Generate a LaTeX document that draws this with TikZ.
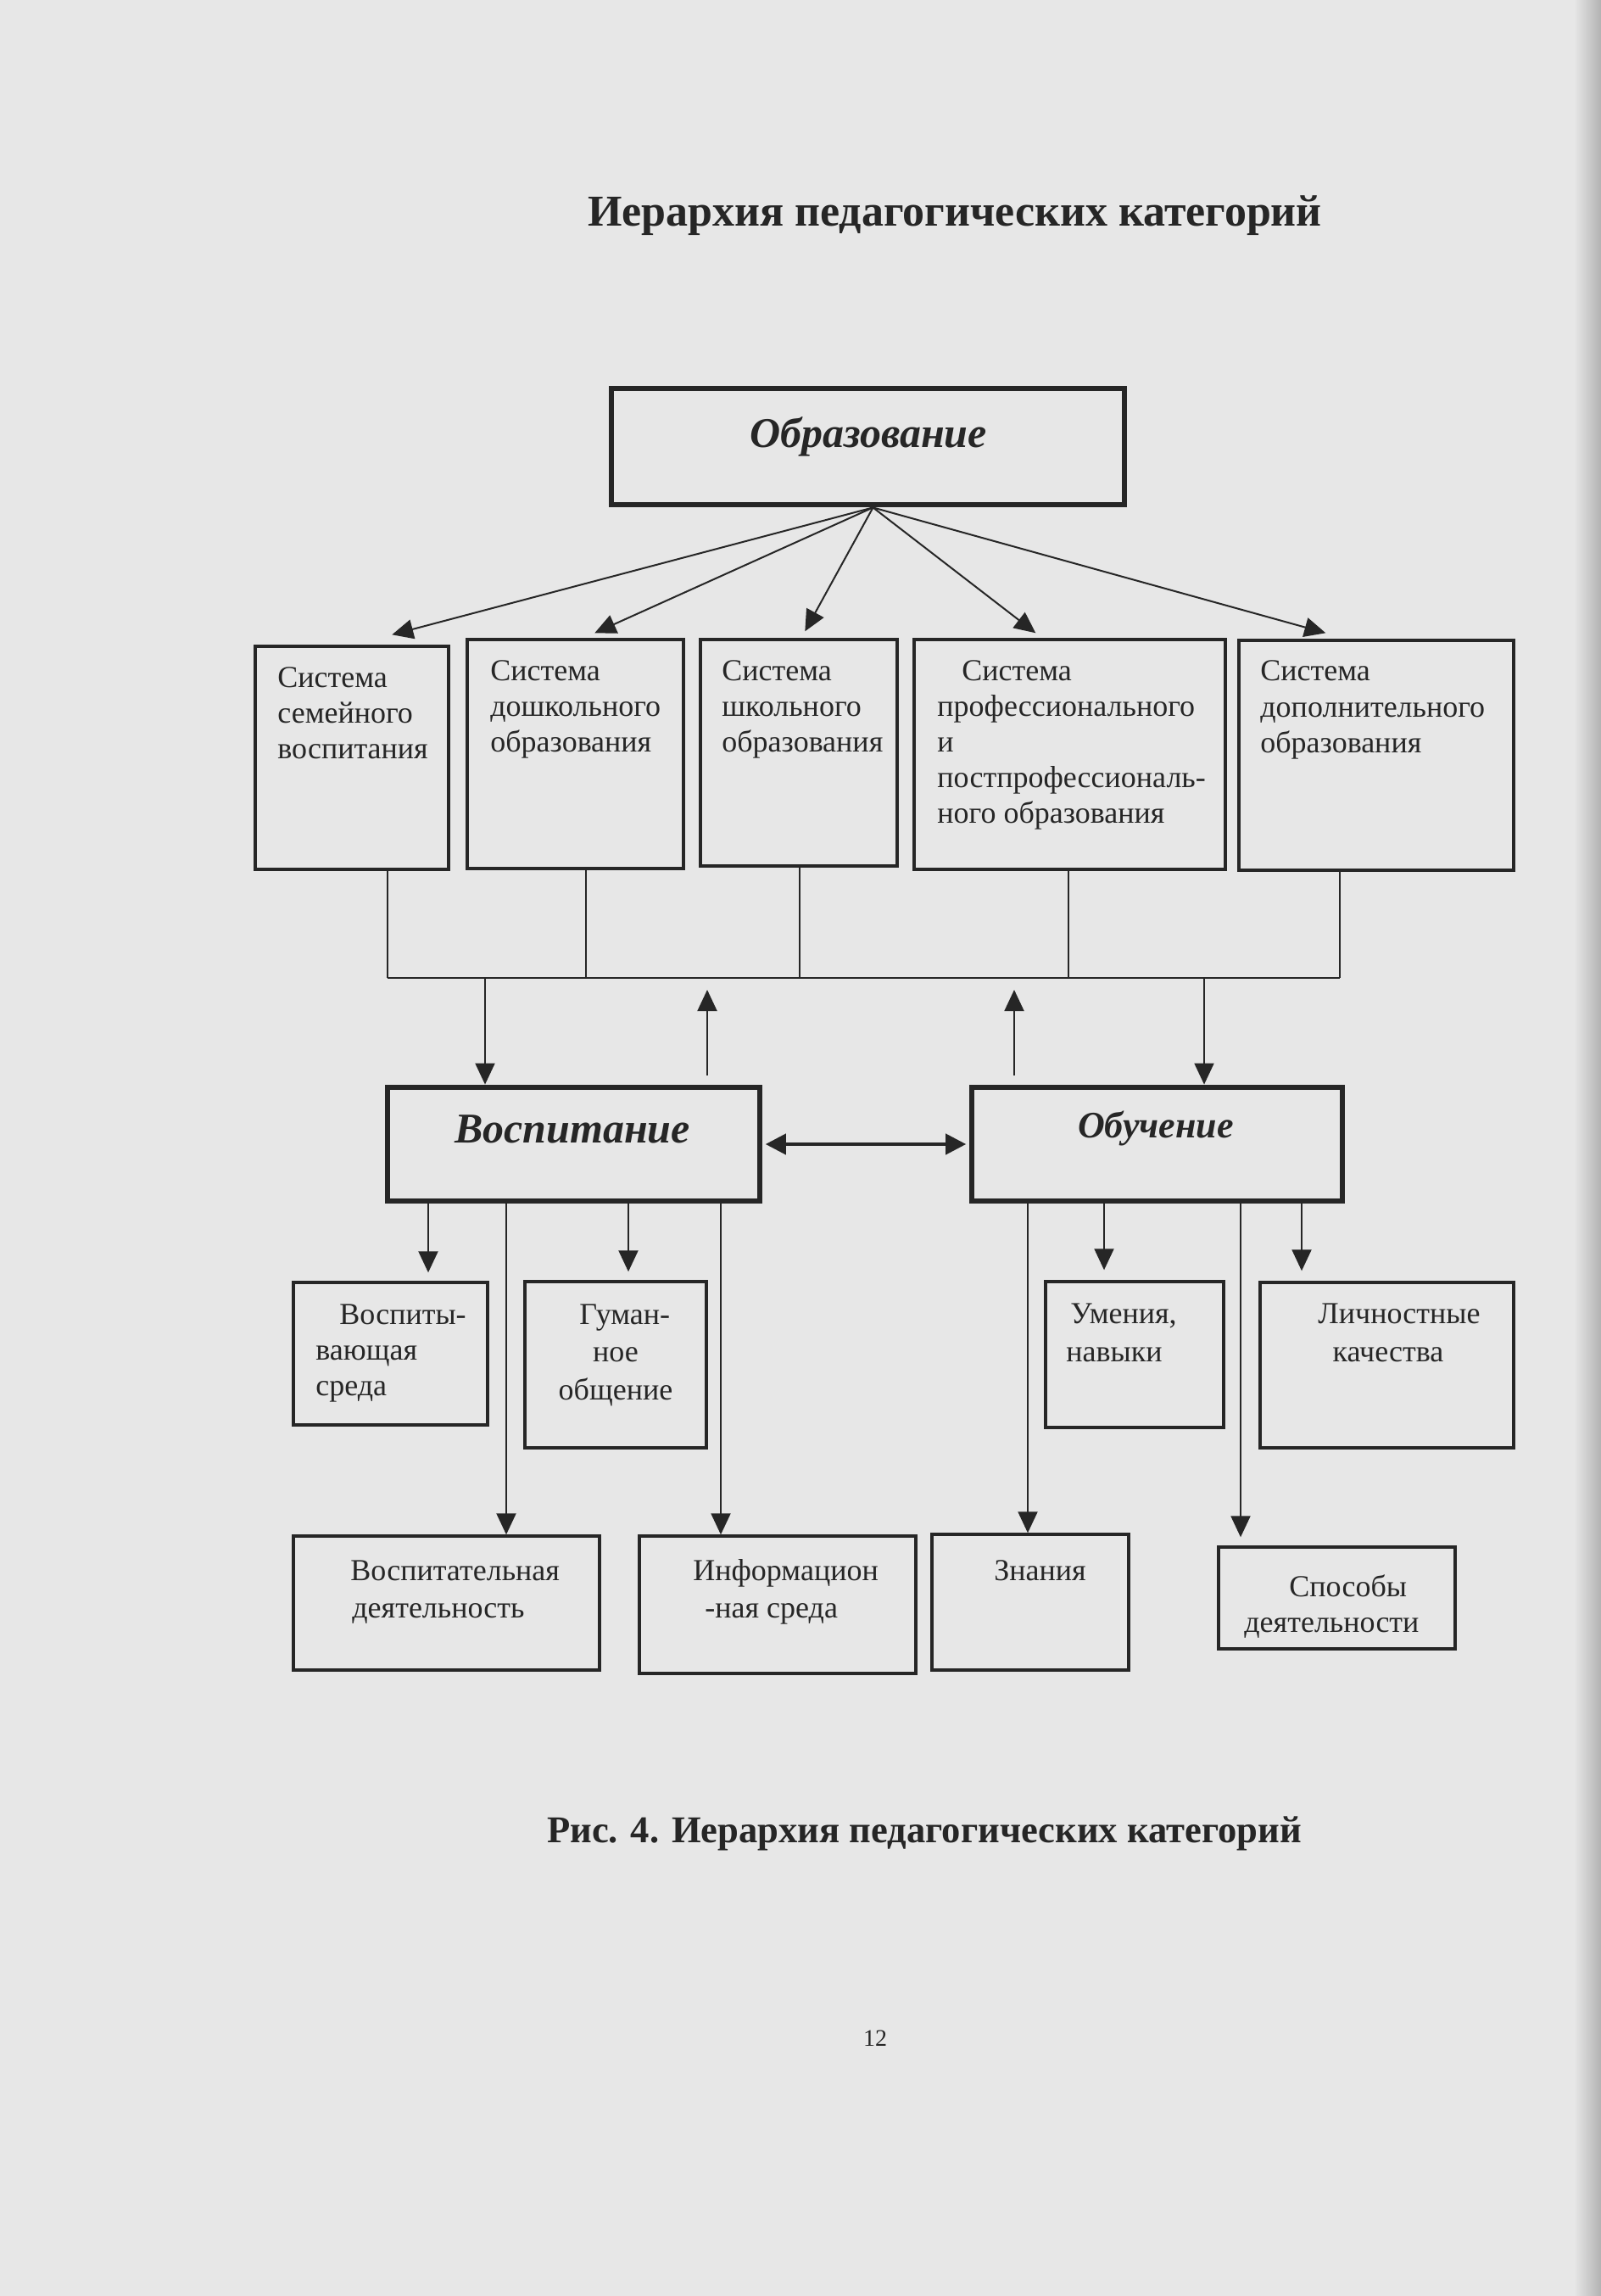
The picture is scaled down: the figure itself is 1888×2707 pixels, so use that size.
\documentclass[tikz,border=0pt]{standalone}
\usepackage{fontspec}
\setmainfont{Liberation Serif}
\usetikzlibrary{arrows.meta,calc,fit}
\definecolor{paper}{RGB}{231,231,231}
\definecolor{ink}{RGB}{38,38,38}
\begin{document}
\begin{tikzpicture}[x=0.5pt,y=-0.5pt,
  sbox/.style={draw=ink, line width=1.7pt, inner sep=0pt},
  mbox/.style={draw=ink, line width=3.4pt, inner sep=0pt},
  ln/.style={draw=ink, line width=1pt},
  arr/.style={ln, -{Triangle[length=12.5pt,width=11.5pt]}},
  darr/.style={draw=ink, line width=2pt, {Triangle[length=12pt,width=12pt]}-{Triangle[length=12pt,width=12pt]}},
  tx/.style={anchor=base west, inner sep=0pt, text=ink, font=\fontsize{18pt}{21pt}\selectfont},
  txc/.style={tx, anchor=base},
  big/.style={anchor=base, inner sep=0pt, text=ink, font=\bfseries\itshape\fontsize{25pt}{30pt}\selectfont},
  bigs/.style={big, font=\bfseries\itshape\fontsize{22pt}{26pt}\selectfont},
  head/.style={anchor=base, inner sep=0pt, text=ink, font=\bfseries\fontsize{26pt}{31pt}\selectfont},
  capt/.style={anchor=base, inner sep=0pt, text=ink, font=\bfseries\fontsize{22.3pt}{27pt}\selectfont},
]
% page
\fill[paper] (0,0) rectangle (1888,2707);
\useasboundingbox (0,0) rectangle (1888,2707);
\shade[left color=paper, right color=gray!60] (1856,0) rectangle (1888,2707);

% title and caption
\node[head] (title) at (1126,267) {Иерархия педагогических категорий};
\node[capt] (caption) at (1090,2172) {Рис. 4. Иерархия педагогических категорий};
\node[anchor=base, inner sep=0pt, text=ink, font=\fontsize{14pt}{16pt}\selectfont] (page) at (1032,2412) {12};

% main boxes
\node[mbox, fit={(721,458)(1326,595)}] (obr) {};
\node[mbox, fit={(457,1282)(896,1416)}] (vos) {};
\node[mbox, fit={(1146,1282)(1583,1416)}] (obu) {};
\node[big] (tobr) at (1024,527) {Образование};
\node[big] (tvos) at (675,1347) {Воспитание};
\node[bigs] (tobu) at (1363,1341) {Обучение};

% systems row
\node[sbox, fit={(301,762)(529,1025)}] (b1) {};
\node[sbox, fit={(551,754)(806,1024)}] (b2) {};
\node[sbox, fit={(826,754)(1058,1021)}] (b3) {};
\node[sbox, fit={(1078,754)(1445,1025)}] (b4) {};
\node[sbox, fit={(1461,755)(1785,1026)}] (b5) {};

\node[tx] (b1a) at (327,810) {Система};
\node[tx] (b1b) at (327,852) {семейного};
\node[tx] (b1c) at (327,894) {воспитания};

\node[tx] (b2a) at (578,802) {Система};
\node[tx] (b2b) at (578,844) {дошкольного};
\node[tx] (b2c) at (578,886) {образования};

\node[tx] (b3a) at (851,802) {Система};
\node[tx] (b3b) at (851,844) {школьного};
\node[tx] (b3c) at (851,886) {образования};

\node[tx] (b4a) at (1134,802) {Система};
\node[tx] (b4b) at (1105,844) {профессионального};
\node[tx] (b4c) at (1105,886) {и};
\node[tx] (b4d) at (1105,928) {постпрофессиональ-};
\node[tx] (b4e) at (1105,970) {ного образования};

\node[tx] (b5a) at (1486,802) {Система};
\node[tx] (b5b) at (1486,845) {дополнительного};
\node[tx] (b5c) at (1486,887) {образования};

% arrows from Образование
\coordinate (o) at ($(obr.south)+(6,0)$);
\draw[arr] (o) -- ($(b1.north west)+(163,-12)$);
\draw[arr] (o) -- ($(b2.north west)+(152,-6)$);
\draw[arr] (o) -- ($(b3.north west)+(125,-8)$);
\draw[arr] (o) -- ($(b4.north west)+(145,-6)$);
\draw[arr] (o) -- ($(b5.north west)+(104,-7)$);

% bus between rows
\coordinate (bus) at (0,1153);
\coordinate (x1) at (457,0);
\coordinate (x2) at (691,0);
\coordinate (x3) at (943,0);
\coordinate (x4) at (1260,0);
\coordinate (x5) at (1580,0);
\draw[ln] (b1.south -| x1) -- (x1 |- bus);
\draw[ln] (b2.south -| x2) -- (x2 |- bus);
\draw[ln] (b3.south -| x3) -- (x3 |- bus);
\draw[ln] (b4.south -| x4) -- (x4 |- bus);
\draw[ln] (b5.south -| x5) -- (x5 |- bus);
\draw[ln] (x1 |- bus) -- (x5 |- bus);

\coordinate (xd1) at (572,0);
\coordinate (xd2) at (1420,0);
\draw[arr] (xd1 |- bus) -- (xd1 |- vos.north);
\draw[arr] (xd2 |- bus) -- (xd2 |- obu.north);
\coordinate (u1s) at (834,1268);
\coordinate (u1e) at (834,1167);
\coordinate (u2s) at (1196,1268);
\coordinate (u2e) at (1196,1167);
\draw[arr] (u1s) -- (u1e);
\draw[arr] (u2s) -- (u2e);

% double arrow
\draw[darr, shorten <=1.7pt, shorten >=1.7pt] (vos.east) -- (obu.west);

% second row boxes
\node[sbox, fit={(346,1512)(575,1680)}] (c1) {};
\node[sbox, fit={(619,1511)(833,1707)}] (c2) {};
\node[sbox, fit={(1233,1511)(1443,1683)}] (c3) {};
\node[sbox, fit={(1486,1512)(1785,1707)}] (c4) {};

\node[tx] (c1a) at (400,1561) {Воспиты-};
\node[tx] (c1b) at (372,1603) {вающая};
\node[tx] (c1c) at (372,1645) {среда};

\node[tx] (c2a) at (683,1561) {Гуман-};
\node[txc] (c2b) at (726,1605) {ное};
\node[txc] (c2c) at (726,1650) {общение};

\node[tx] (c3a) at (1262,1560) {Умения,};
\node[tx] (c3b) at (1257,1605) {навыки};

\node[txc] (c4a) at (1650,1560) {Личностные};
\node[txc] (c4b) at (1637,1605) {качества};

% third row boxes
\node[sbox, fit={(346,1811)(707,1969)}] (d1) {};
\node[sbox, fit={(754,1811)(1080,1973)}] (d2) {};
\node[sbox, fit={(1099,1809)(1331,1969)}] (d3) {};
\node[sbox, fit={(1437,1824)(1716,1944)}] (d4) {};

\node[tx] (d1a) at (413,1863) {Воспитательная};
\node[tx] (d1b) at (415,1907) {деятельность};
\node[tx] (d2a) at (817,1863) {Информацион};
\node[tx] (d2b) at (831,1907) {-ная среда};
\node[tx] (d3a) at (1172,1863) {Знания};
\node[tx] (d4a) at (1520,1882) {Способы};
\node[tx] (d4b) at (1467,1924) {деятельности};

% connectors below Воспитание
\coordinate (y1) at (505,0);
\coordinate (y2) at (597,0);
\coordinate (y3) at (741,0);
\coordinate (y4) at (850,0);
\draw[arr, shorten >=5pt] (vos.south -| y1) -- (y1 |- c1.north);
\draw[arr] (vos.south -| y2) -- (y2 |- d1.north);
\draw[arr, shorten >=5pt] (vos.south -| y3) -- (y3 |- c2.north);
\draw[arr] (vos.south -| y4) -- (y4 |- d2.north);

% connectors below Обучение
\coordinate (z1) at (1212,0);
\coordinate (z2) at (1302,0);
\coordinate (z3) at (1463,0);
\coordinate (z4) at (1535,0);
\draw[arr] (obu.south -| z1) -- (z1 |- d3.north);
\draw[arr, shorten >=6pt] (obu.south -| z2) -- (z2 |- c3.north);
\draw[arr, shorten >=5pt] (obu.south -| z3) -- (z3 |- d4.north);
\draw[arr, shorten >=6pt] (obu.south -| z4) -- (z4 |- c4.north);
\end{tikzpicture}
\end{document}
